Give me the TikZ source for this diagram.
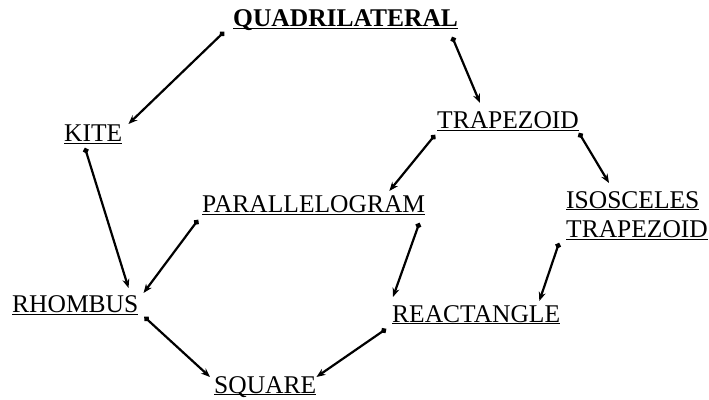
\documentclass[tikz,border=0pt]{standalone}
\usepackage{fontspec}
\setmainfont{Liberation Serif}
\usetikzlibrary{arrows.meta}

\newcommand{\ul}[1]{\underline{\smash{#1}}}

\begin{document}
\begin{tikzpicture}[
    x=1pt, y=1pt,
    term/.style={anchor=base west, inner sep=0pt, font=\fontsize{25.5}{29.3}\selectfont},
    isa edge/.style={{Circle[length=5.5pt]}-{Stealth[length=9pt, width=7pt]}, line width=2.2pt}
]
\useasboundingbox (0,0) rectangle (709,399);

% --- Terms, placed at their baselines ---
\node[term] (quad)    at (233,372) {\ul{\textbf{QUADRILATERAL}}};
\node[term] (kite)    at (64,257)  {\ul{KITE}};
\node[term] (trap)    at (437,270) {\ul{TRAPEZOID}};
\node[term] (para)    at (202,186) {\ul{PARALLELOGRAM}};
\node[term, anchor=north west, align=left] (iso) at (566,191) {\ul{ISOSCELES}\\\ul{TRAPEZOID}};
\node[term] (rhombus) at (12,86)   {\ul{RHOMBUS}};
\node[term] (rect)    at (392,77)  {\ul{REACTANGLE}};
\node[term] (square)  at (214,6)   {\ul{SQUARE}};

% --- Top level ---
\draw[isa edge] ([shift={(-9,-5)}]quad.base west) -- ([shift={(6,18)}]kite.base east);
\draw[isa edge] ([shift={(-6,-10)}]quad.base east) -- ([shift={(43,26)}]trap.base west);

% --- Middle level ---
\draw[isa edge] ([shift={(21,-6)}]kite.base west) -- ([shift={(-10,25)}]rhombus.base east);
\draw[isa edge] ([shift={(-2,-6)}]trap.base west) -- ([shift={(-36,22)}]para.base east);
\draw[isa edge] ([shift={(0,-4)}]trap.base east) -- ([shift={(43,25)}]iso.north west);
\draw[isa edge] ([shift={(-4,-7)}]para.base west) -- ([shift={(5,20)}]rhombus.base east);
\draw[isa edge] ([shift={(-6,-10)}]para.base east) -- ([shift={(1,25)}]rect.base west);
\draw[isa edge] ([shift={(-7,-35)}]iso.north west) -- ([shift={(-21,21)}]rect.base east);

% --- Bottom level ---
\draw[isa edge] ([shift={(6,-4)}]rhombus.base east) -- ([shift={(-4,16)}]square.base west);
\draw[isa edge] ([shift={(-6,-7)}]rect.base west) -- ([shift={(0,16)}]square.base east);

\end{tikzpicture}
\end{document}
